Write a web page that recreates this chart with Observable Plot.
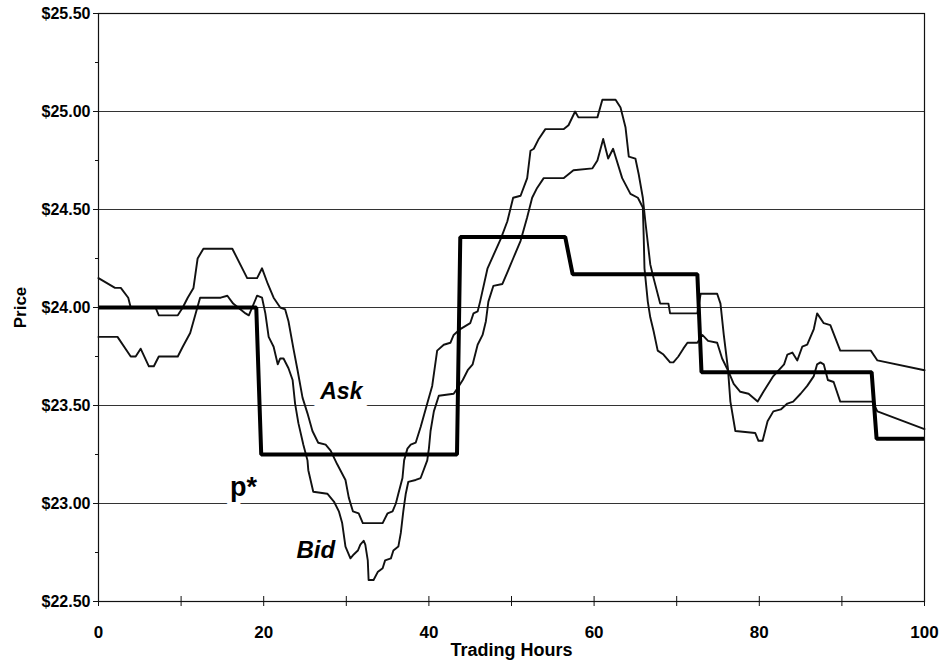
<!DOCTYPE html>
<html>
<head>
<meta charset="utf-8">
<script src="https://cdn.jsdelivr.net/npm/d3@7"></script>
<script src="https://cdn.jsdelivr.net/npm/@observablehq/plot@0.6"></script>
<style>
  html, body { margin: 0; padding: 0; background: #fff; }
  #chart svg { display: block; }
</style>
</head>
<body>
<div id="chart"></div>
<script>
// ---- Data ----
const askHours = [0, 2.0, 2.7, 3.6, 3.9, 6.9, 7.3, 9.6, 10.2, 10.8, 11.5, 12.0, 12.7, 16.2, 18.0, 19.2, 19.8, 20.5, 21.2, 22.0, 22.6, 23.0, 23.6, 24.1, 24.7, 25.3, 25.9, 26.6, 27.5, 28.1, 28.9, 29.9, 30.3, 30.8, 31.5, 32.0, 34.4, 35.0, 35.6, 36.0, 36.3, 36.8, 37.0, 37.4, 37.8, 38.4, 39.0, 39.8, 40.4, 41.0, 41.8, 42.6, 43.0, 43.8, 45.0, 45.4, 45.9, 46.2, 47.1, 48.7, 49.5, 50.2, 51.1, 51.9, 52.3, 52.7, 53.3, 54.1, 56.3, 56.9, 57.7, 58.1, 60.4, 61.0, 62.6, 63.2, 63.8, 64.2, 65.0, 65.4, 65.9, 66.2, 66.8, 67.2, 68.0, 69.0, 69.2, 72.5, 72.9, 74.9, 75.3, 75.7, 76.2, 76.5, 77.1, 79.5, 79.9, 80.4, 81.0, 81.7, 82.6, 83.4, 84.1, 85.0, 85.8, 86.6, 87.0, 87.4, 87.8, 88.3, 89.0, 89.8, 93.7, 94.3, 100];
const askPrices = [24.15, 24.10, 24.10, 24.05, 24.00, 24.00, 23.96, 23.96, 24.00, 24.05, 24.10, 24.25, 24.30, 24.30, 24.15, 24.15, 24.20, 24.12, 24.05, 24.00, 23.99, 23.93, 23.79, 23.68, 23.54, 23.46, 23.37, 23.31, 23.30, 23.27, 23.20, 23.12, 23.03, 22.96, 22.95, 22.90, 22.90, 22.95, 22.96, 23.00, 23.05, 23.13, 23.22, 23.28, 23.30, 23.31, 23.39, 23.51, 23.60, 23.78, 23.81, 23.82, 23.86, 23.89, 23.92, 23.97, 23.98, 24.03, 24.20, 24.35, 24.44, 24.56, 24.57, 24.66, 24.80, 24.81, 24.86, 24.91, 24.91, 24.93, 25.00, 24.97, 24.97, 25.06, 25.06, 25.02, 24.92, 24.77, 24.76, 24.68, 24.56, 24.44, 24.22, 24.15, 24.02, 24.02, 23.97, 23.97, 24.07, 24.07, 24.02, 23.86, 23.69, 23.52, 23.37, 23.36, 23.32, 23.32, 23.42, 23.47, 23.48, 23.51, 23.52, 23.56, 23.60, 23.65, 23.71, 23.72, 23.71, 23.63, 23.62, 23.52, 23.52, 23.47, 23.38];

const bidHours = [0, 2.3, 3.9, 4.5, 5.1, 6.1, 6.7, 7.3, 9.6, 10.2, 11.1, 11.5, 12.3, 14.8, 15.6, 16.3, 17.8, 18.2, 19.2, 19.8, 20.2, 20.6, 21.2, 21.7, 22.0, 22.4, 23.0, 23.5, 23.8, 24.2, 24.8, 25.3, 25.4, 26.0, 27.7, 28.5, 29.1, 29.5, 29.9, 30.5, 30.9, 31.4, 31.7, 32.1, 32.3, 32.6, 32.7, 33.3, 33.8, 34.4, 34.7, 35.4, 35.7, 36.3, 36.6, 36.9, 37.2, 37.5, 38.4, 39.0, 39.8, 40.0, 40.2, 40.6, 41.2, 43.0, 43.5, 44.1, 44.7, 45.3, 45.9, 46.5, 46.9, 47.2, 47.8, 48.9, 49.6, 50.2, 51.1, 51.9, 52.5, 53.1, 53.9, 56.3, 57.5, 59.8, 60.4, 61.1, 61.7, 62.3, 63.4, 64.4, 65.3, 65.9, 66.0, 66.1, 66.5, 66.8, 67.2, 67.7, 68.4, 69.2, 69.6, 70.2, 70.8, 71.3, 72.5, 73.1, 73.8, 74.9, 75.5, 76.2, 76.9, 77.7, 78.7, 79.8, 80.5, 81.7, 83.0, 83.4, 84.0, 84.6, 85.2, 85.8, 86.6, 87.0, 87.8, 88.6, 89.8, 93.5, 94.3, 100];
const bidPrices = [23.85, 23.85, 23.75, 23.75, 23.79, 23.70, 23.70, 23.75, 23.75, 23.80, 23.87, 23.93, 24.05, 24.05, 24.06, 24.02, 23.97, 23.96, 24.06, 24.05, 23.97, 23.85, 23.80, 23.71, 23.74, 23.74, 23.69, 23.63, 23.51, 23.41, 23.30, 23.22, 23.17, 23.06, 23.05, 23.01, 22.96, 22.90, 22.78, 22.72, 22.74, 22.76, 22.79, 22.81, 22.79, 22.71, 22.61, 22.61, 22.65, 22.67, 22.71, 22.72, 22.76, 22.78, 22.85, 22.96, 23.05, 23.11, 23.12, 23.13, 23.22, 23.28, 23.37, 23.47, 23.55, 23.56, 23.59, 23.63, 23.68, 23.71, 23.81, 23.86, 23.93, 24.03, 24.11, 24.12, 24.19, 24.25, 24.34, 24.46, 24.56, 24.61, 24.66, 24.66, 24.70, 24.71, 24.75, 24.86, 24.76, 24.81, 24.66, 24.58, 24.56, 24.51, 24.37, 24.20, 24.03, 23.95, 23.88, 23.78, 23.76, 23.72, 23.72, 23.75, 23.79, 23.82, 23.82, 23.86, 23.83, 23.82, 23.74, 23.68, 23.61, 23.57, 23.56, 23.52, 23.57, 23.65, 23.71, 23.76, 23.77, 23.73, 23.80, 23.81, 23.89, 23.97, 23.92, 23.91, 23.78, 23.78, 23.73, 23.68];

const pStarHours = [0, 19.1, 19.7, 43.4, 43.8, 56.5, 57.4, 72.5, 73.0, 93.6, 94.2, 100];
const pStarPrices = [24.00, 24.00, 23.25, 23.25, 24.36, 24.36, 24.17, 24.17, 23.67, 23.67, 23.33, 23.33];

const yTickValues = [22.5, 23, 23.5, 24, 24.5, 25, 25.5];
const yMinorTicks = [22.75, 23.25, 23.75, 24.25, 24.75, 25.25];
const gridPrices = [23, 23.5, 24, 24.5, 25];
const xTickValues = [0, 20, 40, 60, 80, 100];
const xAllTicks = [0, 10, 20, 30, 40, 50, 60, 70, 80, 90, 100];

const labelTexts = ["Ask", "Bid", "p*"];
const labelHours = [29.4, 26.3, 17.55];
const labelPrices = [23.57, 22.76, 23.08];

const xAxisTitle = "Trading Hours";
const yAxisTitle = "Price";

// ---- Build tables ----
const ask = askHours.map((h, i) => ({h, p: askPrices[i]}));
const bid = bidHours.map((h, i) => ({h, p: bidPrices[i]}));
const pstar = pStarHours.map((h, i) => ({h, p: pStarPrices[i]}));
const labels = labelTexts.map((t, i) => ({t, h: labelHours[i], p: labelPrices[i]}));

const W = 939, H = 662;
const mL = 98, mR = 15, mT = 13, mB = 61;
const innerH = H - mT - mB;
const font = "Liberation Sans, Arial, Helvetica, sans-serif";
const ink = "#111";

const chart = Plot.plot({
  width: W,
  height: H,
  marginLeft: mL,
  marginRight: mR,
  marginTop: mT,
  marginBottom: mB,
  style: {background: "#fff", color: "#000", fontFamily: font},
  x: {domain: [0, 100], label: null},
  y: {domain: [22.5, 25.5], label: null},
  marks: [
    Plot.ruleY(gridPrices, {y: d => d, stroke: "#333", strokeWidth: 1.1}),
    // labels with white halo (interrupt gridlines like the reference)
    Plot.text(labels.filter(d => d.t === "Ask"), {
      x: "h", y: "p", text: "t", fontSize: 23, fontWeight: "bold", fontStyle: "italic",
      fontFamily: font, fill: "#000", stroke: "#fff", strokeWidth: 17
    }),
    Plot.text(labels.filter(d => d.t === "Bid"), {
      x: "h", y: "p", text: "t", fontSize: 24, fontWeight: "bold", fontStyle: "italic",
      fontFamily: font, fill: "#000", stroke: "#fff", strokeWidth: 8
    }),
    Plot.text(labels.filter(d => d.t === "p*"), {
      x: "h", y: "p", text: "t", fontSize: 27, fontWeight: "bold",
      fontFamily: font, fill: "#000", stroke: "#fff", strokeWidth: 10
    }),
    Plot.line(bid, {x: "h", y: "p", stroke: ink, strokeWidth: 1.9, strokeLinejoin: "round"}),
    Plot.line(ask, {x: "h", y: "p", stroke: ink, strokeWidth: 1.9, strokeLinejoin: "round"}),
    Plot.line(pstar, {x: "h", y: "p", stroke: "#000", strokeWidth: 4, strokeLinejoin: "miter", strokeLinecap: "butt"}),
    Plot.frame({stroke: ink, strokeWidth: 1.2}),
    // y axis
    Plot.axisY({
      ticks: yTickValues, tickSize: 5, tickPadding: 3,
      tickFormat: d => "$" + d.toFixed(2),
      fontSize: 16, fontWeight: "bold", fontFamily: font, label: null, stroke: ink
    }),
    Plot.axisY({ticks: yMinorTicks, tickSize: 3, tickFormat: () => "", label: null, stroke: ink}),
    // x axis ticks crossing the axis line
    Plot.tickX(xAllTicks, {x: d => d, insetTop: innerH - 5, stroke: ink, strokeWidth: 1}),
    Plot.axisX({ticks: xAllTicks, tickSize: 5, tickFormat: () => "", label: null, stroke: ink}),
    Plot.axisX({
      ticks: xTickValues, tickSize: 0, tickPadding: 24, tickFormat: d => String(d),
      fontSize: 17, fontWeight: "bold", fontFamily: font, label: null
    }),
    // axis titles
    Plot.text([xAxisTitle], {
      text: d => d, frameAnchor: "bottom", dy: 49, textAnchor: "middle", lineAnchor: "middle",
      fontSize: 18, fontWeight: "bold", fontFamily: font, fill: "#000"
    }),
    Plot.text([yAxisTitle], {
      text: d => d, frameAnchor: "left", dx: -78, rotate: -90, textAnchor: "middle", lineAnchor: "middle",
      fontSize: 17, fontWeight: "bold", fontFamily: font, fill: "#000"
    })
  ]
});

document.getElementById("chart").appendChild(chart);
</script>
</body>
</html>
